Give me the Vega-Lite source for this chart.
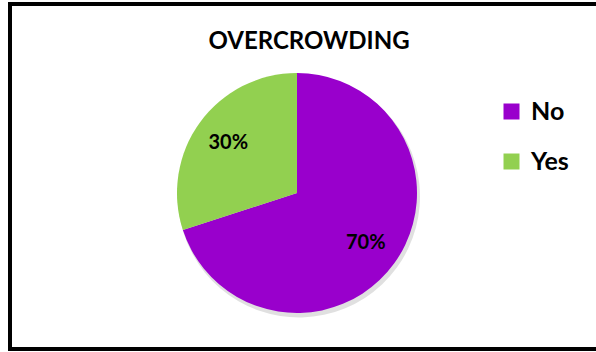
{
  "$schema": "https://vega.github.io/schema/vega-lite/v6.json",
  "width": 590,
  "height": 345,
  "padding": {"left": 10, "top": 4, "right": 0, "bottom": 3},
  "autosize": {"type": "none"},
  "background": "white",
  "view": {"stroke": "#000000", "strokeWidth": 4, "fill": "white"},
  "config": {
    "view": {"stroke": "#000000", "strokeWidth": 4},
    "font": "Lato"
  },
  "title": {
    "text": "OVERCROWDING",
    "font": "Lato",
    "fontSize": 24,
    "fontWeight": "bold",
    "color": "#000000",
    "anchor": "middle",
    "offset": -50,
    "dx": 4
  },
  "data": {
    "values": [
      {"answer": "No", "percent": 70, "label": "70%"},
      {"answer": "Yes", "percent": 30, "label": "30%"}
    ]
  },
  "layer": [
    {
      "mark": {"type": "arc", "radius": 121, "xOffset": -6, "yOffset": 20, "color": "#000000", "opacity": 0.12},
      "encoding": {
        "theta": {"field": "percent", "type": "quantitative", "stack": true},
        "order": {"field": "answer", "sort": "ascending"}
      }
    },
    {
      "mark": {"type": "arc", "radius": 120, "xOffset": -8, "yOffset": 16.5},
      "encoding": {
        "theta": {"field": "percent", "type": "quantitative", "stack": true},
        "order": {"field": "answer", "sort": "ascending"},
        "color": {
          "field": "answer",
          "type": "nominal",
          "scale": {"domain": ["No", "Yes"], "range": ["#9900CC", "#92D050"]},
          "legend": {
            "title": null,
            "orient": "none",
            "legendX": 489,
            "legendY": 95,
            "symbolType": "square",
            "symbolSize": 256,
            "symbolStrokeWidth": 0,
            "symbolOpacity": 1,
            "labelFont": "Lato",
            "labelFontSize": 25,
            "labelFontWeight": "bold",
            "labelColor": "#000000",
            "rowPadding": 24,
            "labelOffset": 7
          }
        }
      }
    },
    {
      "mark": {"type": "text", "radius": 85, "xOffset": -8, "yOffset": 16.5, "font": "Lato", "fontSize": 20, "fontWeight": "bold", "color": "#000000"},
      "encoding": {
        "theta": {"field": "percent", "type": "quantitative", "stack": true},
        "order": {"field": "answer", "sort": "ascending"},
        "text": {"field": "label"}
      }
    }
  ]
}
